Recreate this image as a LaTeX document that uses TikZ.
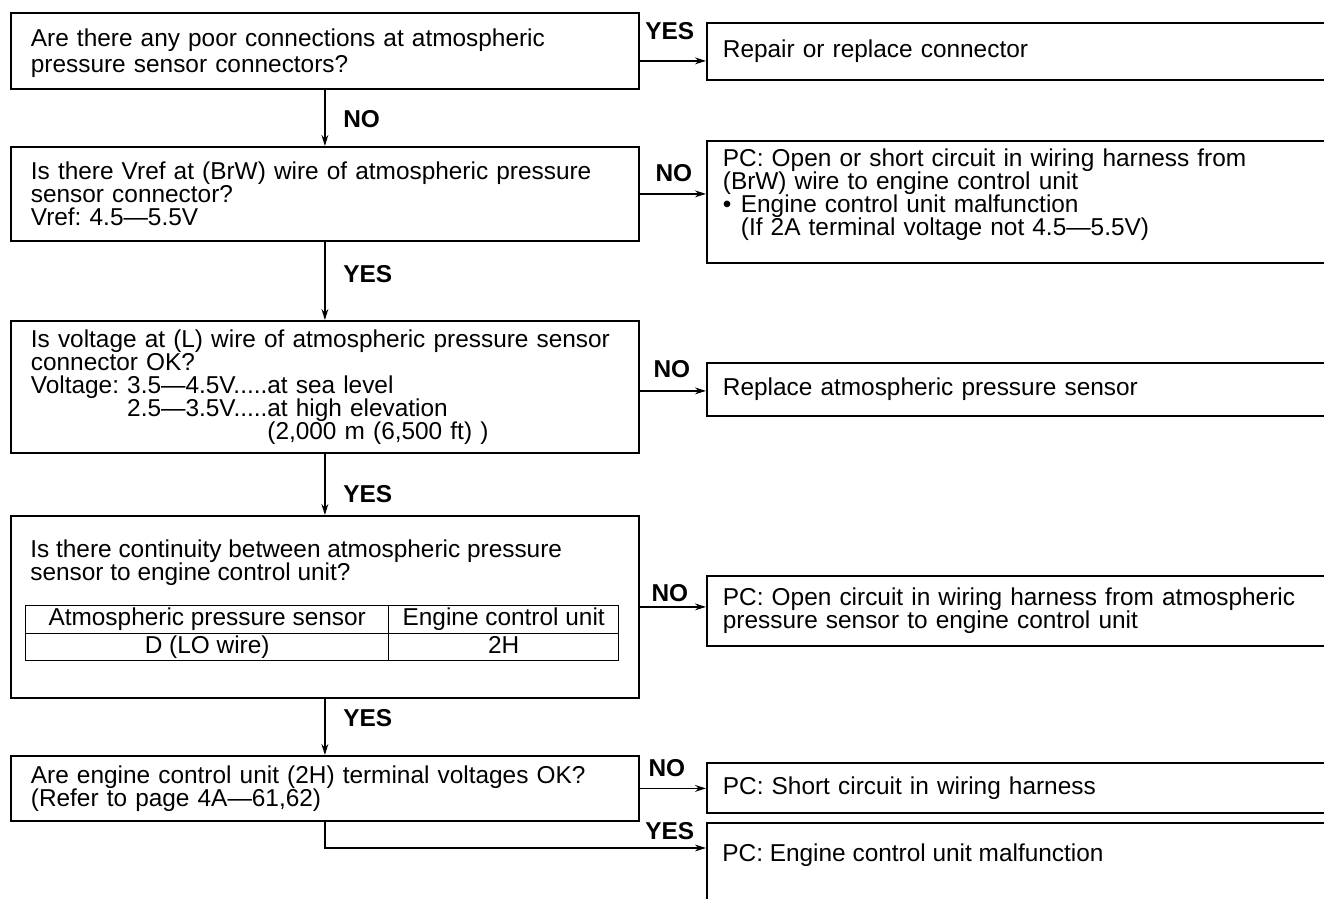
\documentclass[tikz,border=0pt]{standalone}
\usepackage{fontspec}
\setmainfont{Liberation Sans}
\usetikzlibrary{arrows.meta,calc}
\begin{document}
\frenchspacing
\begin{tikzpicture}[x=0.5pt,y=-0.5pt,
  every node/.style={font=\fontsize{12.2}{11.5}\selectfont},
  frame/.style={draw, line width=0.9pt, anchor=north west, align=left},
  qbox/.style={frame, minimum width=314pt, text width=294pt, inner xsep=10pt},
  abox/.style={frame, minimum width=340pt, text width=324pt, inner xsep=8pt},
  cell/.style={draw, line width=0.7pt, anchor=north west, inner sep=0pt, align=center,
    text height=8.8pt, text depth=2.6pt},
  lbl/.style={font=\fontsize{12.2}{12}\selectfont\bfseries, inner sep=0pt},
  arr/.style={line width=0.8pt, -{Stealth[length=5.5pt,width=3.4pt]}}
]
\path[use as bounding box] (0,0) rectangle (1324,899);
\clip (0,0) rectangle (1324,899);
\fill[white] (0,0) rectangle (1324,899);

% question boxes
\node[qbox, minimum height=38pt, font=\fontsize{12.2}{12.8}\selectfont] (q1) at (10,12)
  {\rule{0pt}{11pt}Are there any poor connections at atmospheric\\pressure sensor connectors?};
\node[qbox, minimum height=47pt] (q2) at (10,146)
  {Is there Vref at (BrW) wire of atmospheric pressure\\sensor connector?\\Vref: 4.5—5.5V};
\node[qbox, minimum height=66pt] (q3) at (10,320)
  {Is voltage at (L) wire of atmospheric pressure sensor\\connector OK?\\Voltage: 3.5—4.5V.....at sea level\\\phantom{Voltage: }2.5—3.5V.....at high elevation\\\phantom{Voltage: 3.5—4.5V.....}(2,000 m (6,500 ft) )};
\node[qbox, minimum height=91pt] (q4) at (10,515) {};
\node[anchor=base west, inner sep=0pt, align=left] (q4t) at (30,580)
  {Is there continuity between atmospheric pressure\\sensor to engine control unit?};
\node[cell, minimum width=181.5pt, minimum height=14pt] (t1) at (25,605) {Atmospheric pressure sensor};
\node[cell, minimum width=115pt, minimum height=14pt] (t2) at (388,605) {Engine control unit};
\node[cell, minimum width=181.5pt, minimum height=13.5pt] (t3) at (25,633) {D (LO wire)};
\node[cell, minimum width=115pt, minimum height=13.5pt] (t4) at (388,633) {2H};
\node[qbox, minimum height=32.5pt] (q5) at (10,755)
  {Are engine control unit (2H) terminal voltages OK?\\(Refer to page 4A—61,62)};

% result boxes
\node[abox, minimum height=28.5pt] (r1) at (706,22) {Repair or replace connector};
\node[abox, minimum height=61pt] (r2) at (706,140)
  {PC: Open or short circuit in wiring harness from\\(BrW) wire to engine control unit\\\makebox[9pt][l]{•}Engine control unit malfunction\\\hspace*{9pt}(If 2A terminal voltage not 4.5—5.5V)\rule[-9.5pt]{0pt}{9.5pt}};
\node[abox, minimum height=26.5pt] (r3) at (706,362) {Replace atmospheric pressure sensor};
\node[abox, minimum height=35pt] (r4) at (706,575)
  {PC: Open circuit in wiring harness from atmospheric\\pressure sensor to engine control unit};
\node[abox, minimum height=25pt] (r5) at (706,762) {PC: Short circuit in wiring harness};
\node[abox, minimum height=60pt] (r6) at (706,822) {};
\node[anchor=base west, inner sep=0pt] (r6t) at (722,861) {PC: Engine control unit malfunction};

% vertical connectors
\draw[arr] (q1.south) -- (q2.north);
\node[lbl, anchor=west] at ($(q1.south)+(9pt,-14.5pt)$) {NO};
\draw[arr] (q2.south) -- (q3.north);
\node[lbl, anchor=west] at ($(q2.south)+(9pt,-16pt)$) {YES};
\draw[arr] (q3.south) -- (q4.north);
\node[lbl, anchor=west] at ($(q3.south)+(9pt,-20pt)$) {YES};
\draw[arr] (q4.south) -- (q5.north);
\node[lbl, anchor=west] at ($(q4.south)+(9pt,-9.5pt)$) {YES};

% horizontal connectors
\draw[arr] ([yshift=-5pt]q1.east) -- ([yshift=-5pt]q1.east -| r1.west);
\node[lbl] at ($(q1.east)+(15pt,10pt)$) {YES};
\draw[arr] (q2.east) -- (q2.east -| r2.west);
\node[lbl] at ($(q2.east)+(17pt,10.5pt)$) {NO};
\draw[arr] ([yshift=-2pt]q3.east) -- ([yshift=-2pt]q3.east -| r3.west);
\node[lbl] at ($(q3.east)+(16pt,9pt)$) {NO};
\draw[arr] (q4.east) -- (q4.east -| r4.west);
\node[lbl] at ($(q4.east)+(15pt,7pt)$) {NO};
\draw[arr] (q5.east) -- (q5.east -| r5.west);
\node[lbl] at ($(q5.east)+(13.5pt,10pt)$) {NO};
\draw[arr] (q5.south) |- ([yshift=-13pt]r6.north west);
\node[lbl] at ($(q5.east)+(15pt,-21.5pt)$) {YES};
\end{tikzpicture}
\end{document}
